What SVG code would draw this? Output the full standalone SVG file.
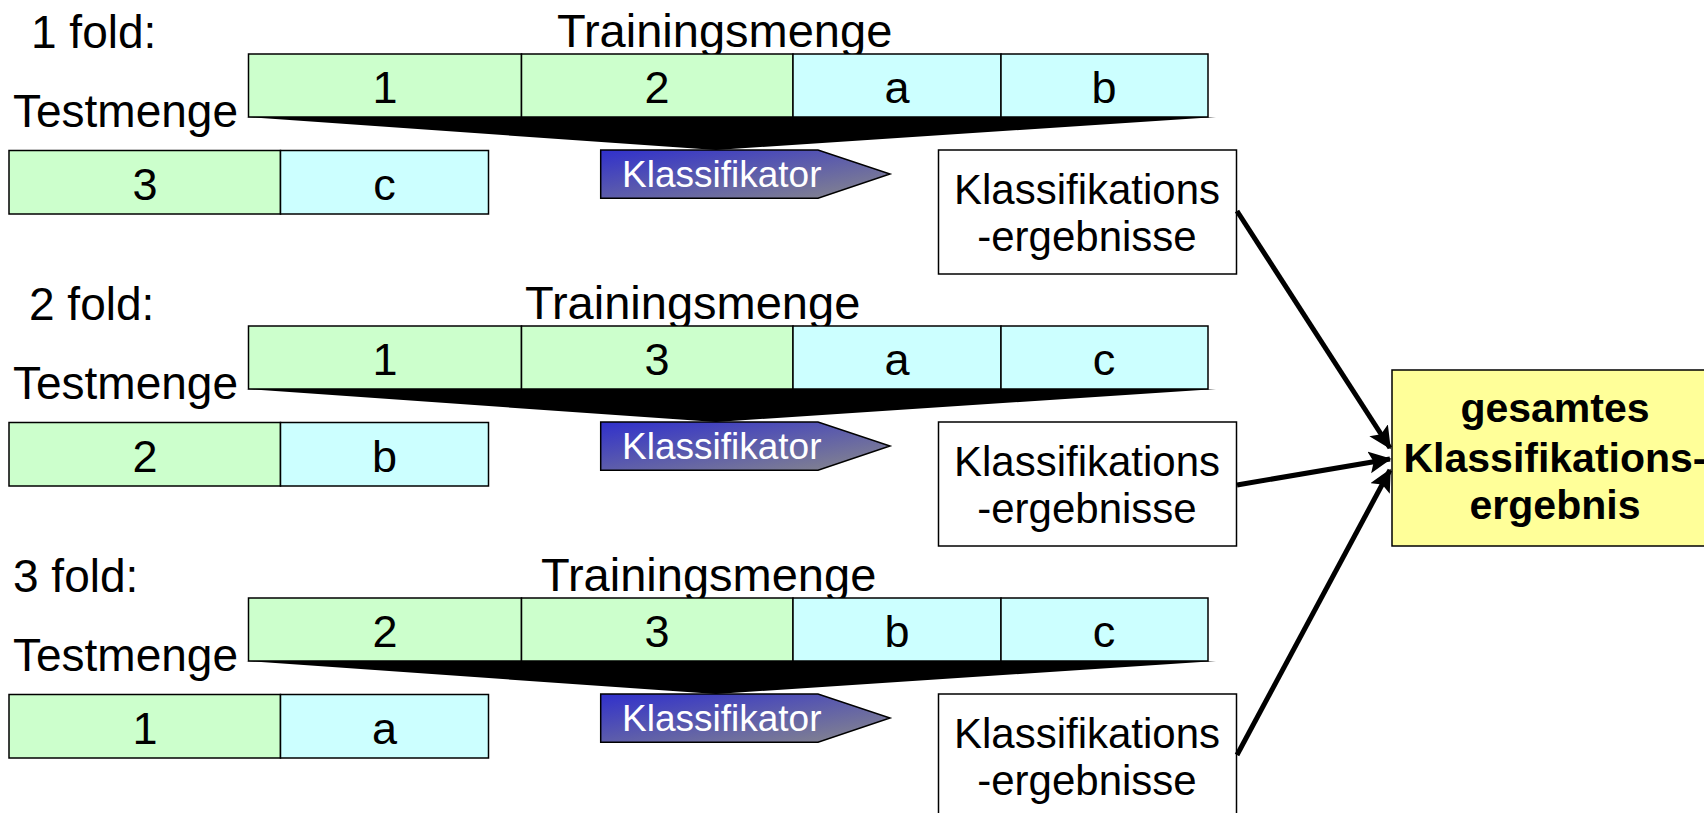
<svg xmlns="http://www.w3.org/2000/svg" width="1704" height="813" viewBox="0 0 1704 813">
<defs>
<style>
.t{font-family:"Liberation Sans",Arial,sans-serif;fill:#000}
.lbl{font-size:46px}
.tm{font-size:47px}
.cell{font-size:45px;text-anchor:middle}
.res{font-size:42px;text-anchor:middle}
.kl{font-family:"Liberation Sans",Arial,sans-serif;font-size:37px;fill:#fff}
.big{font-family:"Liberation Sans",Arial,sans-serif;font-weight:bold;font-size:41px;text-anchor:middle;fill:#000}
.g{fill:#CCFFCC;stroke:#000;stroke-width:1.5}
.c{fill:#CCFFFF;stroke:#000;stroke-width:1.5}
.box{fill:#fff;stroke:#000;stroke-width:1.5}
.arr{stroke:#000;stroke-width:5;fill:none;marker-end:url(#ah)}
</style>
<linearGradient id="kg" x1="0" y1="0" x2="1" y2="1">
<stop offset="0" stop-color="#3030CC"/>
<stop offset="1" stop-color="#8A8A8A"/>
</linearGradient>
<marker id="ah" markerWidth="5" markerHeight="5" refX="4.2" refY="2.2" orient="auto" markerUnits="strokeWidth">
<path d="M0,0 L4.5,2.2 L0,4.4 L0.9,2.2 Z" fill="#000"/>
</marker>
</defs>

<g id="fold1">
<g id="fold1-label"><text class="t lbl" x="31" y="48">1 fold:</text></g>
<g id="fold1-traininglabel"><text class="t tm" x="557" y="47">Trainingsmenge</text></g>
<g id="fold1-testlabel"><text class="t lbl" x="13" y="127">Testmenge</text></g>
<g id="fold1-wedge"><polygon points="246,117 1216,117 716,150" fill="#000"/></g>
<g id="fold1-train">
<rect class="g" x="248.5" y="54" width="273" height="63"/>
<rect class="g" x="521.5" y="54" width="271.5" height="63"/>
<rect class="c" x="793" y="54" width="208" height="63"/>
<rect class="c" x="1001" y="54" width="207" height="63"/>
<text class="t cell" x="385" y="103">1</text>
<text class="t cell" x="657" y="103">2</text>
<text class="t cell" x="897" y="103">a</text>
<text class="t cell" x="1104" y="103">b</text>
</g>
<g id="fold1-test">
<rect class="g" x="9" y="150.5" width="271.5" height="63.5"/>
<rect class="c" x="280.5" y="150.5" width="208" height="63.5"/>
<text class="t cell" x="145" y="200">3</text>
<text class="t cell" x="384.5" y="200">c</text>
</g>
<g id="fold1-klassifikator">
<polygon points="600.7,150 818,150 890,174 818,198.3 600.7,198.3" fill="url(#kg)" stroke="#000" stroke-width="1.5"/>
<text class="kl" x="622" y="187">Klassifikator</text>
</g>
<g id="fold1-result">
<rect class="box" x="938.5" y="150" width="298" height="124"/>
<text class="t res" x="1087" y="204">Klassifikations</text>
<text class="t res" x="1087" y="251">-ergebnisse</text>
</g>
</g>

<g id="fold2">
<g id="fold2-label"><text class="t lbl" x="29" y="320">2 fold:</text></g>
<g id="fold2-traininglabel"><text class="t tm" x="525" y="319">Trainingsmenge</text></g>
<g id="fold2-testlabel"><text class="t lbl" x="13" y="399">Testmenge</text></g>
<g id="fold2-wedge"><polygon points="246,389 1216,389 716,422" fill="#000"/></g>
<g id="fold2-train">
<rect class="g" x="248.5" y="326" width="273" height="63"/>
<rect class="g" x="521.5" y="326" width="271.5" height="63"/>
<rect class="c" x="793" y="326" width="208" height="63"/>
<rect class="c" x="1001" y="326" width="207" height="63"/>
<text class="t cell" x="385" y="375">1</text>
<text class="t cell" x="657" y="375">3</text>
<text class="t cell" x="897" y="375">a</text>
<text class="t cell" x="1104" y="375">c</text>
</g>
<g id="fold2-test">
<rect class="g" x="9" y="422.5" width="271.5" height="63.5"/>
<rect class="c" x="280.5" y="422.5" width="208" height="63.5"/>
<text class="t cell" x="145" y="472">2</text>
<text class="t cell" x="384.5" y="472">b</text>
</g>
<g id="fold2-klassifikator">
<polygon points="600.7,422 818,422 890,446 818,470.3 600.7,470.3" fill="url(#kg)" stroke="#000" stroke-width="1.5"/>
<text class="kl" x="622" y="459">Klassifikator</text>
</g>
<g id="fold2-result">
<rect class="box" x="938.5" y="422" width="298" height="124"/>
<text class="t res" x="1087" y="476">Klassifikations</text>
<text class="t res" x="1087" y="523">-ergebnisse</text>
</g>
</g>

<g id="fold3">
<g id="fold3-label"><text class="t lbl" x="13" y="592">3 fold:</text></g>
<g id="fold3-traininglabel"><text class="t tm" x="541" y="591">Trainingsmenge</text></g>
<g id="fold3-testlabel"><text class="t lbl" x="13" y="671">Testmenge</text></g>
<g id="fold3-wedge"><polygon points="246,661 1216,661 716,694" fill="#000"/></g>
<g id="fold3-train">
<rect class="g" x="248.5" y="598" width="273" height="63"/>
<rect class="g" x="521.5" y="598" width="271.5" height="63"/>
<rect class="c" x="793" y="598" width="208" height="63"/>
<rect class="c" x="1001" y="598" width="207" height="63"/>
<text class="t cell" x="385" y="647">2</text>
<text class="t cell" x="657" y="647">3</text>
<text class="t cell" x="897" y="647">b</text>
<text class="t cell" x="1104" y="647">c</text>
</g>
<g id="fold3-test">
<rect class="g" x="9" y="694.5" width="271.5" height="63.5"/>
<rect class="c" x="280.5" y="694.5" width="208" height="63.5"/>
<text class="t cell" x="145" y="744">1</text>
<text class="t cell" x="384.5" y="744">a</text>
</g>
<g id="fold3-klassifikator">
<polygon points="600.7,694 818,694 890,718 818,742.3 600.7,742.3" fill="url(#kg)" stroke="#000" stroke-width="1.5"/>
<text class="kl" x="622" y="731">Klassifikator</text>
</g>
<g id="fold3-result">
<rect class="box" x="938.5" y="694" width="298" height="130"/>
<text class="t res" x="1087" y="748">Klassifikations</text>
<text class="t res" x="1087" y="795">-ergebnisse</text>
</g>
</g>

<g id="total">
<rect x="1392" y="370" width="330" height="176" fill="#FFFF99" stroke="#000" stroke-width="1.5"/>
<text class="big" x="1555" y="422">gesamtes</text>
<text class="big" x="1555" y="472">Klassifikations-</text>
<text class="big" x="1555" y="519">ergebnis</text>
</g>

<g id="connectors">
<line class="arr" x1="1237" y1="211" x2="1390" y2="448"/>
<line class="arr" x1="1237" y1="485" x2="1390" y2="459"/>
<line class="arr" x1="1237" y1="755" x2="1390" y2="470"/>
</g>
</svg>
